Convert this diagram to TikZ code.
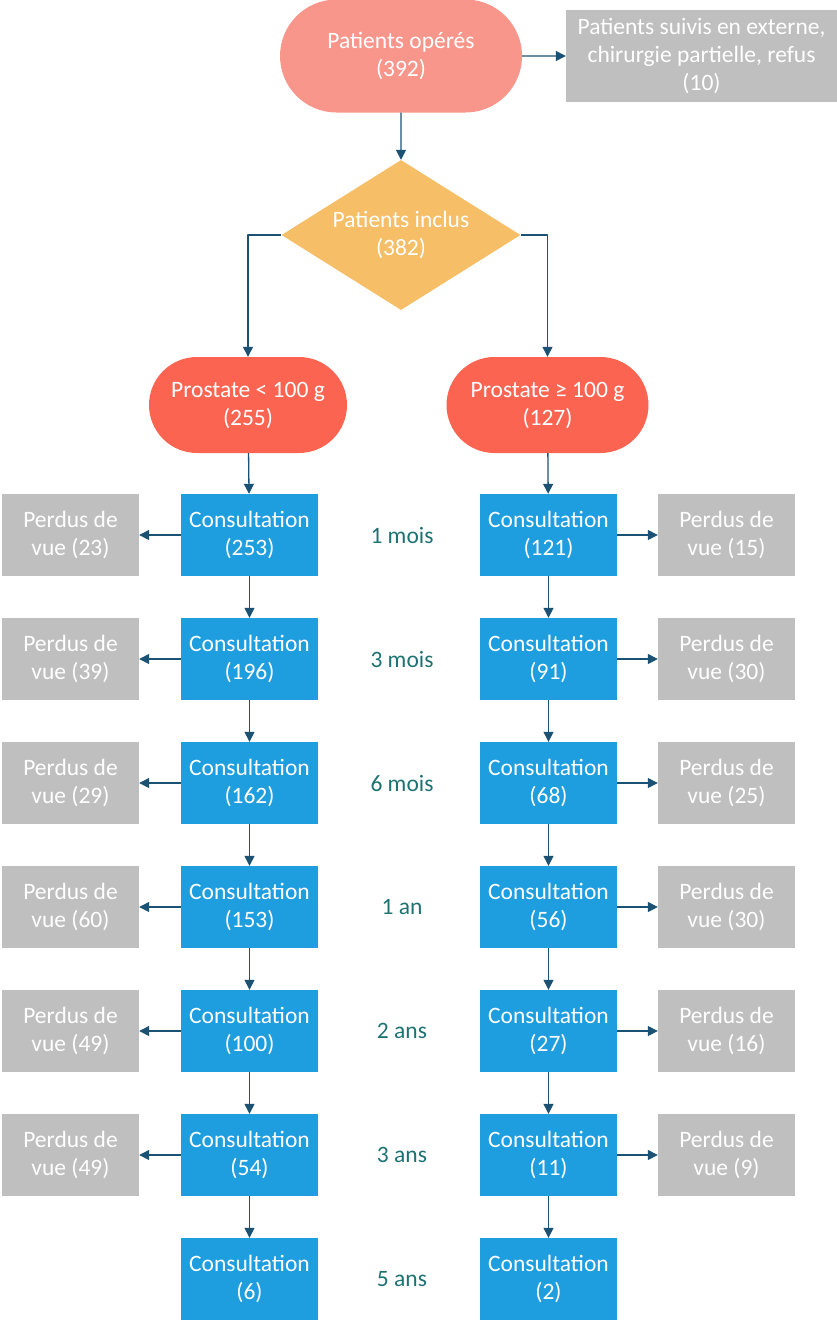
\documentclass[tikz,border=0pt]{standalone}
\usepackage{fontspec}
\setmainfont{Carlito}
\usetikzlibrary{arrows.meta}
\usetikzlibrary{shapes.misc,shapes.geometric}
\definecolor{opcol}{HTML}{F8968B}
\definecolor{procol}{HTML}{FC6452}
\definecolor{inclcol}{HTML}{F6BE66}
\definecolor{conscol}{HTML}{1E9DDF}
\definecolor{lostcol}{HTML}{BFBFBF}
\definecolor{arrcol}{HTML}{1B5273}
\definecolor{timecol}{HTML}{1E7272}
\tikzset{
  pill/.style={rounded rectangle,inner sep=0pt,text=white,align=center},
  consbox/.style={rectangle,fill=conscol,text=white,align=center,minimum width=137pt,minimum height=82pt,inner sep=0pt},
  lostbox/.style={rectangle,fill=lostcol,text=white,align=center,minimum width=137pt,minimum height=82pt,inner sep=0pt},
  timelbl/.style={text=timecol},
  conn/.style={->,draw=arrcol,line width=1.3pt}
}
\begin{document}
\begin{tikzpicture}[line join=round,>={Triangle[length=10pt,width=10pt]},x=1pt,y=-1pt,font=\fontsize{23.5}{28}\selectfont]
  \useasboundingbox (0,0) rectangle (837,1322);
  % top of the chart
  \node[pill,fill=opcol,minimum width=242pt,minimum height=113pt] (op) at (401,56) {Patients opérés\\(392)};
  \node[lostbox,minimum width=271pt,minimum height=92pt] (ext) at (701.5,56) {Patients suivis en externe,\\chirurgie partielle, refus\\(10)};
  \node[diamond,aspect=1.6,fill=inclcol,text=white,align=center,inner sep=0pt,minimum width=239pt,minimum height=150pt] (incl) at (401,235) {Patients inclus\\(382)};
  \node[pill,fill=procol,minimum width=198pt,minimum height=96pt] (pa) at (248,405) {Prostate < 100 g\\(255)};
  \node[pill,fill=procol,minimum width=202pt,minimum height=96pt] (pb) at (547.5,405) {Prostate ≥ 100 g\\(127)};
  % consultations, prostate < 100 g
  \node[consbox] (ca1) at (249.5,535) {Consultation\\(253)};
  \node[consbox] (ca2) at (249.5,659) {Consultation\\(196)};
  \node[consbox] (ca3) at (249.5,783) {Consultation\\(162)};
  \node[consbox] (ca4) at (249.5,907) {Consultation\\(153)};
  \node[consbox] (ca5) at (249.5,1031) {Consultation\\(100)};
  \node[consbox] (ca6) at (249.5,1155) {Consultation\\(54)};
  \node[consbox] (ca7) at (249.5,1279) {Consultation\\(6)};
  \node[lostbox] (la1) at (70.5,535) {Perdus de\\vue (23)};
  \node[lostbox] (la2) at (70.5,659) {Perdus de\\vue (39)};
  \node[lostbox] (la3) at (70.5,783) {Perdus de\\vue (29)};
  \node[lostbox] (la4) at (70.5,907) {Perdus de\\vue (60)};
  \node[lostbox] (la5) at (70.5,1031) {Perdus de\\vue (49)};
  \node[lostbox] (la6) at (70.5,1155) {Perdus de\\vue (49)};
  % consultations, prostate >= 100 g
  \node[consbox] (cb1) at (548.5,535) {Consultation\\(121)};
  \node[consbox] (cb2) at (548.5,659) {Consultation\\(91)};
  \node[consbox] (cb3) at (548.5,783) {Consultation\\(68)};
  \node[consbox] (cb4) at (548.5,907) {Consultation\\(56)};
  \node[consbox] (cb5) at (548.5,1031) {Consultation\\(27)};
  \node[consbox] (cb6) at (548.5,1155) {Consultation\\(11)};
  \node[consbox] (cb7) at (548.5,1279) {Consultation\\(2)};
  \node[lostbox] (lb1) at (726.5,535) {Perdus de\\vue (15)};
  \node[lostbox] (lb2) at (726.5,659) {Perdus de\\vue (30)};
  \node[lostbox] (lb3) at (726.5,783) {Perdus de\\vue (25)};
  \node[lostbox] (lb4) at (726.5,907) {Perdus de\\vue (30)};
  \node[lostbox] (lb5) at (726.5,1031) {Perdus de\\vue (16)};
  \node[lostbox] (lb6) at (726.5,1155) {Perdus de\\vue (9)};
  % time points
  \node[timelbl] (t1) at (402,535) {1 mois};
  \node[timelbl] (t2) at (402,659) {3 mois};
  \node[timelbl] (t3) at (402,783) {6 mois};
  \node[timelbl] (t4) at (402,907) {1 an};
  \node[timelbl] (t5) at (402,1031) {2 ans};
  \node[timelbl] (t6) at (402,1155) {3 ans};
  \node[timelbl] (t7) at (402,1279) {5 ans};
  % arrows
  \draw[conn] (op) -- (ext);
  \draw[conn] (op) -- (incl);
  \draw[conn] (incl.west) -| (pa.north);
  \draw[conn] (incl.east) -| (pb.north);
  \draw[conn] (pa) -- (ca1);
  \draw[conn] (ca1) -- (ca2);
  \draw[conn] (ca2) -- (ca3);
  \draw[conn] (ca3) -- (ca4);
  \draw[conn] (ca4) -- (ca5);
  \draw[conn] (ca5) -- (ca6);
  \draw[conn] (ca6) -- (ca7);
  \draw[conn] (pb) -- (cb1);
  \draw[conn] (cb1) -- (cb2);
  \draw[conn] (cb2) -- (cb3);
  \draw[conn] (cb3) -- (cb4);
  \draw[conn] (cb4) -- (cb5);
  \draw[conn] (cb5) -- (cb6);
  \draw[conn] (cb6) -- (cb7);
  \draw[conn] (ca1) -- (la1);
  \draw[conn] (ca2) -- (la2);
  \draw[conn] (ca3) -- (la3);
  \draw[conn] (ca4) -- (la4);
  \draw[conn] (ca5) -- (la5);
  \draw[conn] (ca6) -- (la6);
  \draw[conn] (cb1) -- (lb1);
  \draw[conn] (cb2) -- (lb2);
  \draw[conn] (cb3) -- (lb3);
  \draw[conn] (cb4) -- (lb4);
  \draw[conn] (cb5) -- (lb5);
  \draw[conn] (cb6) -- (lb6);
\end{tikzpicture}
\end{document}
